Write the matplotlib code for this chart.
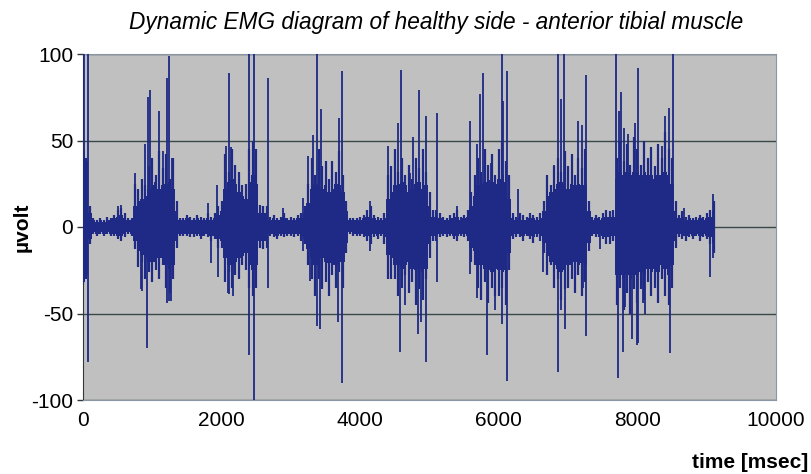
import numpy as np
import matplotlib
matplotlib.use("Agg")
import matplotlib.pyplot as plt

plt.rcParams['font.family'] = ['Liberation Sans', 'DejaVu Sans']
plt.rcParams['axes.unicode_minus'] = False

# EMG trace, one column every 50 ms
step_ms = 50

# solid core of the trace (upper / lower edge)
core_hi = [44, 38, 8, 4, 3, 4, 3, 4, 4, 5,
           6, 7, 5, 4, 4, 12, 15, 16, 18, 22,
           24, 26, 22, 24, 25, 26, 22, 9, 4, 4,
           5, 4, 4, 5, 4, 4, 5, 4, 5, 7,
           9, 22, 26, 28, 25, 20, 18, 16, 26, 30,
           25, 8, 8, 8, 4, 5, 4, 4, 5, 4,
           4, 4, 5, 5, 8, 14, 22, 25, 24, 22,
           24, 20, 22, 25, 24, 20, 9, 4, 4, 4,
           4, 5, 6, 7, 5, 4, 4, 5, 16, 20,
           24, 25, 26, 24, 20, 22, 25, 26, 22, 24,
           12, 6, 6, 5, 4, 4, 5, 5, 6, 4,
           5, 6, 12, 18, 24, 25, 26, 27, 26, 25,
           28, 30, 26, 16, 5, 4, 5, 4, 4, 5,
           5, 4, 5, 9, 18, 20, 22, 25, 26, 25,
           22, 25, 24, 25, 24, 24, 9, 4, 5, 4,
           5, 6, 6, 6, 28, 32, 30, 32, 30, 32,
           32, 30, 32, 30, 30, 28, 30, 30, 32, 30,
           25, 9, 5, 6, 4, 5, 4, 4, 5, 4,
           5, 6, 9]
core_lo = [-32, -28, -7, -3, -4, -3, -4, -3, -4, -4,
           -5, -5, -4, -3, -4, -8, -14, -16, -18, -20,
           -20, -20, -18, -18, -22, -24, -22, -8, -4, -4,
           -4, -4, -4, -4, -5, -4, -4, -5, -5, -7,
           -8, -18, -22, -22, -20, -18, -17, -15, -22, -25,
           -22, -8, -8, -8, -4, -4, -5, -4, -4, -4,
           -4, -4, -4, -5, -7, -13, -18, -22, -22, -18,
           -20, -21, -22, -22, -20, -20, -9, -3, -4, -4,
           -4, -4, -5, -6, -4, -5, -4, -6, -16, -18,
           -22, -22, -24, -22, -20, -24, -25, -24, -26, -24,
           -10, -5, -5, -4, -4, -4, -4, -5, -5, -4,
           -4, -5, -12, -14, -22, -22, -24, -25, -26, -24,
           -25, -26, -25, -15, -5, -4, -4, -5, -4, -5,
           -6, -4, -5, -9, -17, -20, -22, -24, -26, -25,
           -22, -22, -20, -22, -21, -22, -9, -4, -4, -4,
           -5, -6, -6, -5, -28, -28, -30, -28, -30, -28,
           -28, -26, -28, -24, -26, -24, -26, -22, -24, -28,
           -22, -8, -4, -5, -5, -4, -5, -4, -5, -4,
           -5, -6, -9]

# how far the dense column reaches in each 50 ms slot
reach_hi = [45, 40, 12, 5, 4, 5, 4, 6, 5, 7,
            10, 11, 8, 5, 5, 25, 22, 28, 24, 35,
            40, 30, 44, 34, 42, 28, 40, 15, 5, 5,
            7, 6, 5, 7, 6, 5, 8, 6, 8, 12,
            15, 42, 32, 45, 36, 32, 24, 25, 45, 50,
            45, 13, 12, 12, 6, 7, 5, 6, 8, 5,
            6, 5, 7, 8, 12, 25, 40, 30, 45, 35,
            38, 28, 38, 32, 44, 30, 15, 5, 5, 5,
            6, 7, 10, 12, 7, 6, 5, 8, 30, 35,
            45, 32, 40, 30, 36, 28, 40, 34, 45, 32,
            20, 10, 10, 8, 6, 5, 7, 8, 10, 6,
            7, 10, 20, 30, 40, 32, 45, 36, 42, 30,
            45, 50, 38, 30, 8, 6, 8, 7, 6, 8,
            7, 6, 8, 15, 30, 24, 35, 40, 32, 44,
            35, 42, 30, 40, 34, 45, 15, 6, 7, 6,
            8, 10, 9, 10, 40, 50, 38, 48, 36, 52,
            45, 36, 50, 40, 46, 35, 48, 40, 55, 45,
            40, 15, 7, 9, 6, 7, 5, 6, 7, 6,
            8, 10, 15]
reach_lo = [-33, -30, -10, -4, -5, -4, -5, -4, -5, -5,
            -7, -8, -6, -4, -5, -13, -23, -20, -30, -26,
            -32, -25, -30, -22, -35, -38, -30, -12, -5, -5,
            -5, -6, -6, -5, -7, -5, -6, -8, -7, -12,
            -12, -32, -26, -35, -28, -30, -22, -25, -35, -40,
            -35, -12, -13, -12, -5, -6, -7, -5, -6, -5,
            -5, -6, -5, -8, -10, -22, -30, -40, -30, -36,
            -32, -40, -28, -35, -26, -35, -15, -4, -5, -5,
            -5, -6, -8, -10, -6, -7, -5, -10, -30, -30,
            -30, -40, -35, -28, -38, -32, -45, -36, -42, -30,
            -18, -8, -8, -6, -5, -6, -5, -7, -8, -5,
            -6, -8, -20, -22, -35, -42, -32, -44, -35, -40,
            -40, -35, -45, -25, -7, -6, -6, -8, -5, -7,
            -9, -6, -8, -15, -28, -22, -35, -30, -42, -36,
            -35, -30, -38, -28, -40, -32, -14, -5, -6, -6,
            -7, -10, -10, -8, -45, -35, -48, -38, -50, -36,
            -44, -36, -42, -32, -40, -35, -44, -30, -40, -45,
            -35, -12, -6, -7, -8, -6, -7, -5, -8, -6,
            -7, -10, -15]

# single spikes standing out of the dense part (time in ms, peak in µV)
spike_t = [15, 65, 65, 510, 550,
           750, 850, 925, 935, 970, 1090, 1217, 1246, 1240, 1275,
           895, 1160, 1285, 830, 1217,
           1800, 1840, 1940, 1945,
           2111, 2100, 2400, 2400, 2472, 2472, 2674, 2674, 2886,
           2060, 2140, 2090, 2170,
           3180, 3180, 3324, 3381, 3371, 3430, 3420, 3251, 3281,
           3675, 3694, 3742, 3742, 4141, 4141, 4406,
           4550, 4574, 4588, 4848, 4834, 4945, 4945,
           4714, 4762, 4640, 4880,
           5113, 5113, 5392, 5584, 5584, 5681, 5681, 5777, 5835,
           5728, 5890, 5938, 6065,
           6041, 6041, 6113, 6113, 6282,
           6643, 6859, 6859, 6898, 6946, 6956,
           6790, 7196, 7220, 6898,
           7147, 7258, 7258, 7460,
           7691, 7715, 7763, 7787, 7807, 7869, 7917, 7965,
           7730, 8350, 7820, 8013, 8110,
           7990, 8013, 8085, 8398, 8456, 8470, 8509,
           8672, 9048, 9090, 9090]
spike_v = [100, 100, -78, 12, 13,
           31, -37, -70, 75, 79, 67, 86, 99, -43, -43,
           48, 44, 40, -36, -44,
           14, -21, 24, -29,
           89, -39, 100, -74, 100, -100, 86, -35, 11,
           47, 46, -38, -40,
           17, -14, 53, 100, -57, 68, -59, 41, -31,
           -55, 63, 90, -90, 15, -14, 47,
           60, -72, 91, 79, -62, 64, -78,
           31, 52, -45, -55,
           66, -32, 12, 61, -27, 48, -41, 89, -74,
           77, 37, -48, 73,
           100, -56, 90, -89, 22,
           -26, 100, -84, 74, 100, -59,
           36, 59, -35, -48,
           61, 88, -63, -13,
           100, -87, 78, -72, 57, 54, -65, 60,
           67, 47, -46, -67, -50,
           -68, 92, -44, 64, 69, -73, 100,
           11, -29, 19, -18]

y_ticks = [-100, -50, 0, 50, 100]
x_ticks = [0, 2000, 4000, 6000, 8000, 10000]

trace_color = '#1f2a86'
t0 = np.arange(len(core_hi)) * step_ms

fig = plt.figure(figsize=(8.11, 4.74), dpi=100)
ax = fig.add_axes([83 / 811, 1 - 400 / 474, (776 - 83) / 811, (400 - 54) / 474])
ax.set_facecolor('#c0c0c0')

ax.fill_between(t0, core_lo, core_hi, step='mid', color=trace_color, lw=0, zorder=3)
ax.vlines(t0, reach_lo, reach_hi, color=trace_color, lw=1.6, zorder=3)
ax.vlines(spike_t, 0, spike_v, color=trace_color, lw=1.3, zorder=3)

ax.set_xlim(0, 10000)
ax.set_ylim(-100, 100)
ax.set_yticks(y_ticks)
ax.set_xticks(x_ticks)
ax.yaxis.grid(True, color='#3a4848', lw=1.0)
ax.set_axisbelow(True)

for s in ['top', 'right', 'bottom']:
    ax.spines[s].set_color('#8a96a4')
ax.spines['left'].set_color('#303838')
ax.tick_params(axis='y', direction='out', length=4, width=1, color='#303838',
               labelsize=15, pad=3)
ax.tick_params(axis='x', length=0, labelsize=15, pad=8)

fig.text(436 / 811, 1 - 22 / 474,
         'Dynamic EMG diagram of healthy side - anterior tibial muscle',
         ha='center', va='center', fontsize=16.3, style='italic')
fig.text(22 / 811, 1 - 227 / 474, 'µvolt', rotation=90, ha='center',
         va='center', fontsize=15, fontweight='bold')
fig.text(808 / 811, 1 - 462 / 474, 'time [msec]', ha='right', va='center',
         fontsize=15, fontweight='bold')

fig.savefig('out.png', dpi=100)
